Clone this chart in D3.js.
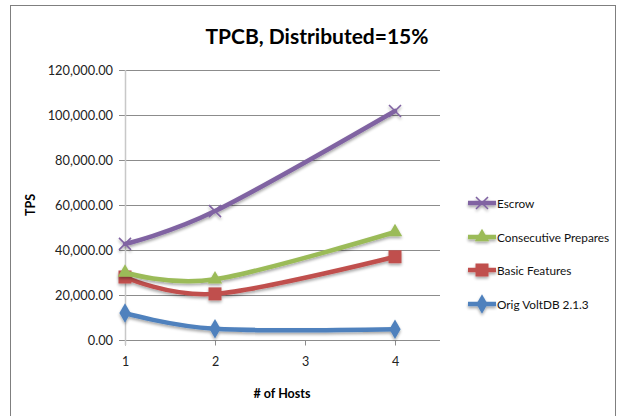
<!DOCTYPE html>
<html><head><meta charset="utf-8">
<script src="https://cdn.jsdelivr.net/npm/d3@7"></script>
<style>
html,body{margin:0;padding:0;background:#fff;}
svg{display:block;}
text{font-family:Lato,"Open Sans",sans-serif;}
</style></head>
<body>
<svg id="chart" width="624" height="416"></svg>
<script>
const hosts = [1, 2, 4];
const xTicks = [1, 2, 3, 4];
const yTicks = [0, 20000, 40000, 60000, 80000, 100000, 120000];
const seriesNames = ["Escrow", "Consecutive Prepares", "Basic Features", "Orig VoltDB 2.1.3"];
const escrow = [42700, 57300, 101800];
const consecutive = [30000, 27000, 48000];
const basic = [28000, 20500, 37000];
const orig = [12000, 5000, 4800];
const colors = ["#8064A2", "#9BBB59", "#C0504D", "#4F81BD"];
const markers = ["x", "triangle", "square", "diamond"];

const svg = d3.select("#chart");
const x = d3.scaleLinear().domain([1, 4.5]).range([125, 440]);
const y = d3.scaleLinear().domain([0, 120000]).range([340, 70]);
const FONT = 'Lato,"Open Sans",sans-serif';

// outer border
svg.append("rect").attr("x", 10.5).attr("y", 5.5).attr("width", 605).attr("height", 420)
  .attr("fill", "#fff").attr("stroke", "#7f7f7f").attr("stroke-width", 1);

// title
svg.append("text").attr("x", 317).attr("y", 44).attr("text-anchor", "middle")
  .attr("font-size", 21).attr("font-weight", "bold").attr("fill", "#000")
  .text("TPCB, Distributed=15%");

// y axis labels + gridlines
const yAxis = d3.axisLeft(y).tickValues(yTicks).tickSize(0)
  .tickFormat(d => d3.format(",.2f")(d));
const gy = svg.append("g").attr("transform", "translate(125,0)").call(yAxis);
gy.select(".domain").remove();
gy.selectAll("text").attr("x", -12).attr("font-size", 12.8).attr("fill", "#222")
  .style("font-family", FONT);
svg.append("g").selectAll("line").data(yTicks).join("line")
  .attr("x1", 119).attr("x2", 440).attr("y1", d => y(d) + 0.5).attr("y2", d => y(d) + 0.5)
  .attr("stroke", "#8c8c8c").attr("stroke-width", 1);

// x axis
const xAxis = d3.axisBottom(x).tickValues(xTicks).tickSize(5).tickFormat(d3.format("d"));
const gx = svg.append("g").attr("transform", "translate(0,340.5)").call(xAxis);
gx.select(".domain").remove();
gx.selectAll(".tick line").attr("stroke", "#8c8c8c");
gx.selectAll("text").attr("y", 17).attr("font-size", 12.5).attr("fill", "#222")
  .style("font-family", FONT);
// y axis line
svg.append("line").attr("x1", x(1) + 0.5).attr("x2", x(1) + 0.5).attr("y1", 70).attr("y2", 345)
  .attr("stroke", "#c8c8c8").attr("stroke-width", 1.5);

// axis titles
svg.append("text").attr("transform", "translate(35,205) rotate(-90)").attr("text-anchor", "middle")
  .attr("font-size", 12.5).attr("font-weight", "bold").text("TPS");
svg.append("text").attr("x", 282).attr("y", 398).attr("text-anchor", "middle")
  .attr("font-size", 12.5).attr("font-weight", "bold").text("# of Hosts");

// shadow filter
const defs = svg.append("defs");
const f = defs.append("filter").attr("id", "sh").attr("x", "-20%").attr("y", "-20%").attr("width", "140%").attr("height", "160%");
f.append("feGaussianBlur").attr("in", "SourceAlpha").attr("stdDeviation", 1.5).attr("result", "b");
f.append("feOffset").attr("in", "b").attr("dy", 2).attr("result", "o");
f.append("feComponentTransfer").attr("in", "o").attr("result", "o2")
  .append("feFuncA").attr("type", "linear").attr("slope", 0.35);
const m = f.append("feMerge");
m.append("feMergeNode").attr("in", "o2");
m.append("feMergeNode").attr("in", "SourceGraphic");

function drawMarker(g, type, cx, cy, color) {
  if (type === "x") {
    const s = 6;
    g.append("path").attr("d", `M${cx-s},${cy-s}L${cx+s},${cy+s}M${cx-s},${cy+s}L${cx+s},${cy-s}`)
      .attr("stroke", color).attr("stroke-width", 1.6).attr("fill", "none");
  } else if (type === "triangle") {
    g.append("path").attr("d", d3.symbol().type(d3.symbolTriangle).size(90)())
      .attr("transform", `translate(${cx},${cy})`).attr("fill", color);
  } else if (type === "square") {
    g.append("rect").attr("x", cx - 6.5).attr("y", cy - 6.5).attr("width", 13).attr("height", 13)
      .attr("fill", color);
  } else {
    g.append("path").attr("d", d3.symbol().type(d3.symbolDiamond).size(110)())
      .attr("transform", `translate(${cx},${cy})`).attr("fill", color);
  }
}

const allSeries = [escrow, consecutive, basic, orig];
const line = d3.line().x((d, i) => x(hosts[i])).y(d => y(d)).curve(d3.curveCardinal.tension(0));
for (let k = allSeries.length - 1; k >= 0; k--) {
  const g = svg.append("g").attr("filter", "url(#sh)");
  g.append("path").datum(allSeries[k]).attr("d", line).attr("fill", "none")
    .attr("stroke", colors[k]).attr("stroke-width", 4.5).attr("stroke-linecap", "round");
  allSeries[k].forEach((v, i) => drawMarker(g, markers[k], x(hosts[i]), y(v), colors[k]));
}

// legend
const legY = [203, 237, 270, 304];
seriesNames.forEach((name, k) => {
  const g = svg.append("g").attr("filter", "url(#sh)");
  g.append("line").attr("x1", 468).attr("x2", 496).attr("y1", legY[k]).attr("y2", legY[k])
    .attr("stroke", colors[k]).attr("stroke-width", 4.5);
  drawMarker(g, markers[k], 482, legY[k], colors[k]);
  svg.append("text").attr("x", 497).attr("y", legY[k] + 4.5).attr("font-size", 11.8)
    .attr("fill", "#111").text(name);
});
</script>
</body></html>
